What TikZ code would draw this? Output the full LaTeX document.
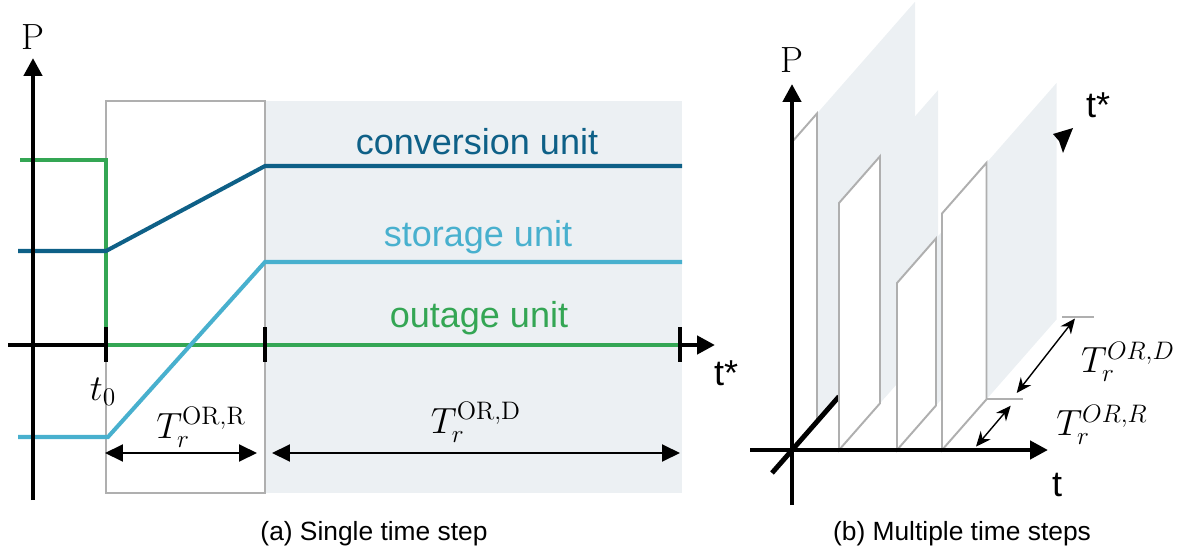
\documentclass[tikz,border=0pt]{standalone}
\usepackage{fontspec}
\setsansfont{Liberation Sans}
\usetikzlibrary{arrows.meta}

\definecolor{convblue}{RGB}{14,96,135}
\definecolor{storblue}{RGB}{72,176,206}
\definecolor{outgreen}{RGB}{52,166,84}
\definecolor{bggrey}{RGB}{236,240,243}
\definecolor{edgegrey}{RGB}{175,175,175}

\begin{document}
\begin{tikzpicture}[x=0.02cm, y=-0.02cm,
	axis/.style={ line width=2.5pt, -{Triangle[length=3.6mm,width=3.6mm]} },
	tickmark/.style={ line width=2.5pt },
	unitline/.style={ line width=2.3pt },
	span/.style={ line width=1.1pt, {Triangle[length=3.6mm,width=3.4mm]}-{Triangle[length=3.6mm,width=3.4mm]} },
	dim/.style={ line width=0.8pt, {Stealth[length=3mm,width=2.6mm]}-{Stealth[length=3mm,width=2.6mm]} },
	recovery/.style={ draw=edgegrey, line width=1.1pt, fill=white },
	duration/.style={ fill=bggrey },
	lbl/.style={ font=\sffamily\fontsize{20.5}{24}\selectfont, anchor=base },
	mathlbl/.style={ font=\huge },
	caption/.style={ font=\sffamily\fontsize{15}{18}\selectfont, anchor=base }
]
\useasboundingbox (0,0) rectangle (1188,554);

\fill[duration] (265,101) rectangle (682,493);
\draw[recovery] (106,101) rectangle (265,493);
\draw[axis] (8,345) -- (715,345);
\draw[unitline, outgreen] (20,160) -- (106,160) -- (106,345) -- (680,345);
\draw[unitline, convblue] (18,251) -- (106,251) -- (265,166) -- (682,166);
\draw[unitline, storblue] (18,437) -- (108,437) -- (265,262) -- (682,262);
\draw[axis] (33,500) -- (33,58);
\draw[tickmark] (106,327) -- (106,362);
\draw[tickmark] (265,327) -- (265,362);
\draw[tickmark] (680,327) -- (680,362);

\node at (33,37) (pa) [mathlbl] {P};
\node at (708,385) (tstara) [lbl, anchor=base west] {t*};
\node at (103,392) (t0) [mathlbl] {$t_0$};
\node at (477,155) (conv) [lbl, convblue] {conversion unit};
\node at (478,247) (stor) [lbl, storblue] {storage unit};
\node at (479,327) (outg) [lbl, outgreen] {outage unit};

\coordinate (ra) at (105,453);
\coordinate (rb) at (257,453);
\node at (201,427) (tra) [mathlbl] {$T_r^{\mathrm{OR,R}}$};
\draw[span] (ra) -- (rb);
\coordinate (da) at (272,453);
\coordinate (db) at (680,453);
\node at (476,422) (tda) [mathlbl] {$T_r^{\mathrm{OR,D}}$};
\draw[span] (da) -- (db);
\node at (374,540) (capa) [caption] {(a) Single time step};

\fill[duration] (817,421.5) -- ++(0,-308) -- ++(98,-111.7) -- ++(0,308) -- cycle;
\draw[recovery] (792,450) -- ++(0,-308) -- ++(25,-28.5) -- ++(0,308) -- cycle;
\draw[line width=2.8pt] (772,473) -- (839,396.5);
\fill[duration] (880,403.3) -- ++(0,-247) -- ++(58,-66.1) -- ++(0,247) -- cycle;
\draw[recovery] (839,450) -- ++(0,-247) -- ++(41,-46.7) -- ++(0,247) -- cycle;
\fill[duration] (936,405.5) -- ++(0,-167) -- ++(40,-45.6) -- ++(0,167) -- cycle;
\draw[recovery] (897,450) -- ++(0,-167) -- ++(39,-44.5) -- ++(0,167) -- cycle;
\fill[duration] (986.5,399.3) -- ++(0,-236.5) -- ++(70,-79.8) -- ++(0,236.5) -- cycle;
\draw[recovery] (942,450) -- ++(0,-236.5) -- ++(44.5,-50.7) -- ++(0,236.5) -- cycle;

\draw[edgegrey, line width=1.1pt] (986.5,399.3) -- (1023,399.3);
\draw[edgegrey, line width=1.1pt] (1062,317) -- (1094,317);
\coordinate (rlo) at (976,446.6);
\coordinate (rhi) at (1010.7,405.7);
\coordinate (dlo) at (1016.7,393);
\coordinate (dhi) at (1075,318.5);
\draw[dim] (rlo) -- (rhi);
\draw[dim] (dlo) -- (dhi);

\draw[axis] (750,450) -- (1048,450);
\draw[axis] (792,505) -- (792,84);
\fill (1073,128) -- (1053,134) -- (1059,141) -- (1063,153) -- cycle;

\node at (792,60) (pb) [mathlbl] {P};
\node at (1046,496) (tb) [lbl, anchor=base west] {t};
\node at (1080,118) (tstarb) [lbl, anchor=base west] {t*};
\node at (1128,362) (tdb) [mathlbl] {$T_r^{OR,D}$};
\node at (1102,425) (trb) [mathlbl] {$T_r^{OR,R}$};
\node at (962,540) (capb) [caption] {(b) Multiple time steps};

\end{tikzpicture}
\end{document}
